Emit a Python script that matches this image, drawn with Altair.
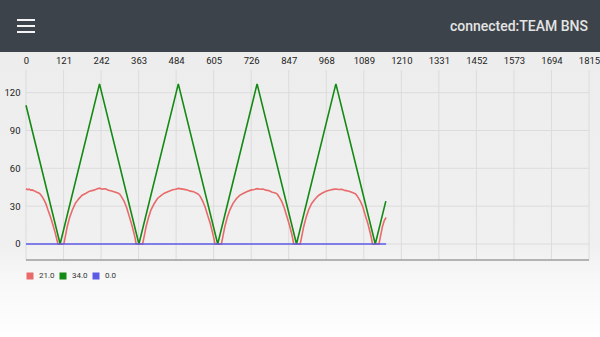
import altair as alt
import pandas as pd

# ---------------- data ----------------
series_names = ["21.0", "34.0", "0.0"]
series_colors = ["#e86a6a", "#138a13", "#5b5be6"]

green_x = [0, 110, 237, 364, 491, 618, 745, 872, 999, 1126, 1160]
green_y = [110, 0, 127, 0, 127, 0, 127, 0, 127, 0, 34]

red_x = [0, 5, 10, 15, 20, 25, 30, 35, 40, 46, 52, 58, 64, 70, 76, 82, 88, 94, 100, 103,
         122, 127, 133, 141, 149, 159, 170, 181, 192, 205, 219, 228, 237,
         246, 256, 266, 276, 286, 296, 302, 308, 316, 324, 332, 340, 348, 352, 355,
         376, 381, 387, 395, 403, 413, 424, 435, 446, 459, 473, 482, 491,
         500, 510, 520, 530, 540, 550, 556, 562, 570, 578, 586, 594, 602, 606, 609,
         630, 635, 641, 649, 657, 667, 678, 689, 700, 713, 727, 736, 745,
         754, 764, 774, 784, 794, 804, 810, 816, 824, 832, 840, 848, 856, 860, 863,
         884, 889, 895, 903, 911, 921, 932, 943, 954, 967, 981, 990, 999,
         1008, 1018, 1028, 1038, 1048, 1058, 1064, 1070, 1078, 1086, 1094, 1102, 1110, 1114, 1117,
         1138, 1143, 1149, 1155, 1161]
red_y = [43.8, 43.1, 43.5, 42.7, 42.9, 42.2, 41.8, 41.0, 40.6, 39.6, 37.5, 35.0, 32.0, 27.5, 23.5, 19.0, 14.0, 9.0, 3.0, 0,
         0, 6.2, 13.9, 21.3, 26.8, 32.2, 35.8, 38.7, 40.1, 41.9, 42.7, 43.6, 44.3,
         43.5, 43.8, 42.6, 42.1, 41.3, 40.4, 39.6, 37.4, 34.1, 29.2, 22.7, 16.1, 8.6, 4.2, 0,
         0, 6.0, 13.6, 21.0, 27.1, 31.9, 36.1, 38.4, 40.3, 41.7, 43.0, 43.4, 44.1,
         43.7, 43.3, 42.8, 41.9, 41.5, 40.2, 39.4, 37.6, 33.8, 29.0, 22.4, 16.3, 8.4, 4.1, 0,
         0, 6.3, 13.8, 21.2, 26.9, 32.0, 35.9, 38.6, 40.0, 41.6, 42.9, 43.2, 43.9,
         43.4, 43.6, 42.7, 42.2, 41.0, 40.5, 39.5, 37.3, 34.0, 29.1, 22.6, 16.0, 8.7, 4.0, 0,
         0, 6.1, 13.5, 21.1, 27.0, 32.1, 35.7, 38.5, 40.2, 41.8, 42.8, 43.3, 43.6,
         43.2, 43.4, 42.5, 42.0, 41.2, 40.3, 39.3, 37.2, 33.9, 29.3, 22.5, 16.2, 8.5, 4.1, 0,
         0, 6.2, 13.7, 18.6, 21.0]

blue_x = [0, 1161]
blue_y = [0, 0]

x_ticks = [0, 121, 242, 363, 484, 605, 726, 847, 968, 1089, 1210, 1331, 1452, 1573, 1694, 1815]
y_ticks = [0, 30, 60, 90, 120]
header_title = ["connected:TEAM BNS"]

# ---------------- tables ----------------
rows = []
for name, xs, ys in [("21.0", red_x, red_y), ("34.0", green_x, green_y), ("0.0", blue_x, blue_y)]:
    for a, b in zip(xs, ys):
        rows.append({"x": a, "y": b, "series": name})
df = pd.DataFrame(rows)
xt = pd.DataFrame({"t": x_ticks})
yt = pd.DataFrame({"t": y_ticks})
one = pd.DataFrame({"k": [0]})
title_df = pd.DataFrame({"label": header_title})
legend_df = pd.DataFrame({"series": series_names, "x": [0, 0, 0], "y": [0, 0, 0]})

W, H = 563, 190
PL, PT, PR, PB = 26, 70, 11, 77

xscale = alt.Scale(domain=[0, 1815], nice=False, zero=False)
yscale = alt.Scale(domain=[-12.7, 138], nice=False, zero=False)

xaxis = alt.Axis(orient="top", values=x_ticks, format="d", grid=False, domain=False, ticks=False, tickSize=0,
                 labelPadding=5, labelFontSize=9.5, labelFont="Roboto", labelColor="#222222",
                 labelOverlap=False, labelFlush=False, labelBound=False, title=None, zindex=1)
yaxis = alt.Axis(orient="left", values=y_ticks, format="d", grid=False, domain=False, ticks=False, tickSize=0,
                 labelPadding=6, labelFontSize=9.5, labelFont="Roboto", labelColor="#222222",
                 title=None, zindex=1)
X = lambda f: alt.X(f, scale=xscale, axis=xaxis)
Y = lambda f: alt.Y(f, scale=yscale, axis=yaxis)

# ---------------- decoration ----------------
bg = alt.Chart(one).mark_rect(
    color=alt.Gradient(
        gradient="linear",
        stops=[alt.GradientStop(color="#ededed", offset=0),
               alt.GradientStop(color="#f0f0f0", offset=0.68),
               alt.GradientStop(color="#f8f8f8", offset=0.8),
               alt.GradientStop(color="#fefefe", offset=1)],
        x1=0, x2=0, y1=0, y2=1)
).encode(x=alt.value(-PL), x2=alt.value(W + PR), y=alt.value(-18), y2=alt.value(H + PB))

header = alt.Chart(one).mark_rect(color="#3c434a").encode(
    x=alt.value(-PL), x2=alt.value(W + PR), y=alt.value(-PT), y2=alt.value(-18))

burger = alt.layer(*[
    alt.Chart(one).mark_rect(color="#f4f4f4").encode(
        x=alt.value(-9), x2=alt.value(9), y=alt.value(yy), y2=alt.value(yy + 2))
    for yy in (-51, -45, -39)
])

title = alt.Chart(title_df).mark_text(
    align="right", baseline="middle", font="Roboto", fontSize=14, fontWeight=500, color="#e4e4e4"
).encode(x=alt.value(562), y=alt.value(-43), text="label:N")

vgrid = alt.Chart(xt).mark_rule(color="#dcdcdc", strokeWidth=1).encode(
    x=X("t:Q"), y=alt.value(0), y2=alt.value(H))
hgrid = alt.Chart(yt).mark_rule(color="#dcdcdc", strokeWidth=1).encode(
    y=Y("t:Q"), x=alt.value(0), x2=alt.value(W))

bottom_line = alt.Chart(one).mark_rule(color="#9e9e9e", strokeWidth=1.5).encode(
    x=alt.value(0), x2=alt.value(W), y=alt.value(H))

# ---------------- data lines ----------------
cscale = alt.Scale(domain=series_names, range=series_colors)
legend = alt.Legend(
    title=None, orient="none", legendX=0, legendY=202, direction="horizontal",
    symbolType="square", symbolSize=49, symbolStrokeWidth=0, symbolOpacity=1,
    labelFontSize=8, labelColor="#333333", labelFont="Roboto",
    labelOffset=5, columnPadding=4, padding=0, zindex=1,
)

legend_layer = alt.Chart(legend_df).mark_point(shape="square", filled=True, size=0, opacity=0).encode(
    x=X("x:Q"), y=Y("y:Q"),
    color=alt.Color("series:N", scale=cscale, legend=legend),
)

base = alt.Chart(df).mark_line(strokeWidth=1.6).encode(
    x=X("x:Q"),
    y=Y("y:Q"),
    color=alt.Color("series:N", scale=cscale, legend=None),
    order="idx:Q",
).transform_window(idx="row_number()", groupby=["series"])

lines = alt.layer(*[
    base.transform_filter(alt.datum.series == s) for s in series_names
])

chart = alt.layer(bg, header, burger, title, vgrid, hgrid, bottom_line, legend_layer, lines).properties(
    width=W, height=H,
    padding={"left": PL, "top": PT, "right": PR, "bottom": PB},
    autosize=alt.AutoSizeParams(type="none"),
    background="#ffffff",
).configure_view(stroke=None, fill=None)

chart.save("out.html", embed_options={"renderer": "svg", "actions": False})
